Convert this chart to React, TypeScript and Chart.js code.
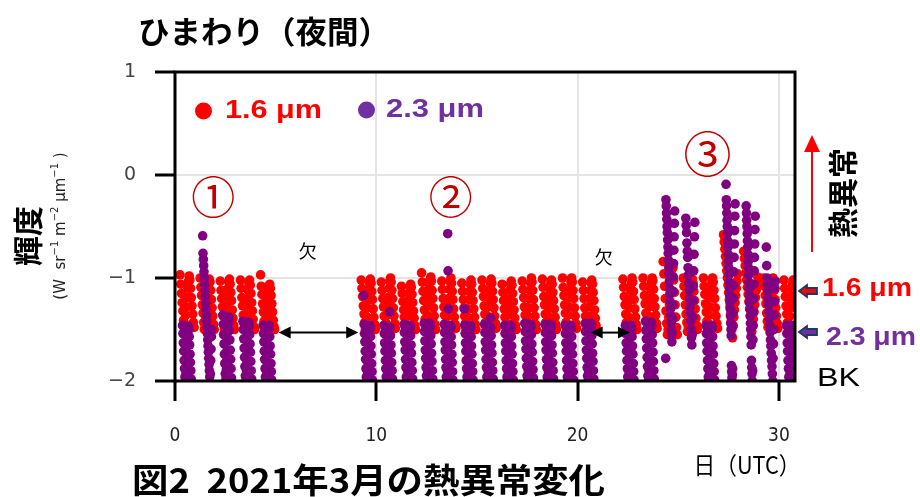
import { useEffect, useRef } from 'react';
import { Chart, registerables } from 'chart.js';

Chart.register(...registerables);

// Observation nights (day of March 2021, UTC) – gaps are missing data (欠)
const nights = [0, 1, 2, 3, 4, 9, 10, 11, 12, 13, 14, 15, 16, 17, 18, 19, 20, 22, 23, 24, 25, 26, 27, 28, 29, 30];
// Samples of each night are spread evenly around the night centre (days)
const nightCenter = 0.6;
const spread16 = 0.7;
const spread23 = 0.45;

// 1.6 µm radiance samples per night
const band16: number[][] = [
  [-0.97, -1.06, -1.15, -1.24, -1.32, -1.41, -1.49, -1.45, -1.36, -1.28, -1.19, -1.1, -1.03, -0.98, -1.02, -1.1, -1.19, -1.27, -1.35, -1.43, -1.48],
  [-1.0, -1.09, -1.17, -1.26, -1.34, -1.43, -1.5, -1.46, -1.38, -1.29, -1.21, -1.12, -1.05, -1.01, -1.04, -1.12, -1.21, -1.29, -1.37, -1.45, -1.5],
  [-1.03, -1.12, -1.2, -1.28, -1.37, -1.45, -1.5, -1.44, -1.35, -1.27, -1.18, -1.1, -1.04, -1.01, -1.06, -1.14, -1.22, -1.31, -1.39, -1.46, -1.5],
  [-1.02, -1.1, -1.19, -1.27, -1.36, -1.44, -1.5, -1.46, -1.37, -1.29, -1.2, -1.12, -1.05, -1.02, -1.07, -1.15, -1.24, -1.32, -1.4, -1.47, -1.5],
  [-0.97, -1.08, -1.16, -1.25, -1.33, -1.42, -1.5, -1.45, -1.37, -1.28, -1.2, -1.13, -1.08, -1.06, -1.1, -1.17, -1.25, -1.33, -1.41, -1.47, -1.5],
  [-1.02, -1.1, -1.18, -1.27, -1.35, -1.43, -1.5, -1.46, -1.38, -1.29, -1.21, -1.12, -1.05, -1.01, -1.05, -1.13, -1.21, -1.3, -1.38, -1.45, -1.5],
  [-1.04, -1.12, -1.2, -1.28, -1.37, -1.45, -1.5, -1.44, -1.36, -1.27, -1.19, -1.1, -1.03, -1.0, -1.04, -1.12, -1.2, -1.29, -1.37, -1.44, -1.49],
  [-1.08, -1.15, -1.23, -1.31, -1.38, -1.46, -1.5, -1.45, -1.37, -1.3, -1.22, -1.15, -1.09, -1.06, -1.09, -1.16, -1.24, -1.32, -1.39, -1.46, -1.5],
  [-0.95, -1.04, -1.13, -1.22, -1.31, -1.4, -1.48, -1.45, -1.36, -1.27, -1.18, -1.09, -1.02, -0.99, -1.03, -1.12, -1.2, -1.29, -1.37, -1.45, -1.5],
  [-1.03, -1.11, -1.2, -1.28, -1.36, -1.44, -1.5, -1.45, -1.37, -1.28, -1.2, -1.11, -1.04, -1.0, -1.05, -1.13, -1.21, -1.3, -1.38, -1.45, -1.49],
  [-1.05, -1.13, -1.21, -1.29, -1.37, -1.44, -1.5, -1.46, -1.38, -1.3, -1.21, -1.13, -1.06, -1.02, -1.06, -1.14, -1.22, -1.3, -1.38, -1.45, -1.5],
  [-1.02, -1.1, -1.18, -1.27, -1.35, -1.43, -1.5, -1.45, -1.37, -1.28, -1.2, -1.12, -1.05, -1.01, -1.05, -1.13, -1.21, -1.29, -1.37, -1.44, -1.49],
  [-1.06, -1.14, -1.22, -1.3, -1.38, -1.45, -1.5, -1.44, -1.36, -1.28, -1.2, -1.12, -1.06, -1.03, -1.07, -1.15, -1.23, -1.31, -1.39, -1.46, -1.5],
  [-1.03, -1.11, -1.19, -1.28, -1.36, -1.44, -1.5, -1.45, -1.37, -1.29, -1.2, -1.12, -1.05, -1.0, -1.04, -1.12, -1.21, -1.29, -1.37, -1.45, -1.5],
  [-1.01, -1.09, -1.18, -1.26, -1.35, -1.43, -1.5, -1.46, -1.37, -1.29, -1.2, -1.12, -1.05, -1.02, -1.06, -1.14, -1.22, -1.3, -1.38, -1.45, -1.5],
  [-1.0, -1.09, -1.17, -1.26, -1.34, -1.43, -1.5, -1.45, -1.36, -1.28, -1.19, -1.11, -1.04, -1.0, -1.04, -1.12, -1.2, -1.29, -1.37, -1.44, -1.49],
  [-1.04, -1.12, -1.2, -1.29, -1.37, -1.45, -1.5, -1.45, -1.37, -1.28, -1.2, -1.12, -1.05, -1.02, -1.06, -1.14, -1.22, -1.31, -1.39, -1.46, -1.5],
  [-1.01, -1.09, -1.18, -1.26, -1.35, -1.43, -1.5, -1.46, -1.38, -1.29, -1.21, -1.12, -1.05, -1.0, -1.04, -1.13, -1.21, -1.3, -1.38, -1.45, -1.5],
  [-1.0, -1.08, -1.17, -1.25, -1.34, -1.42, -1.49, -1.45, -1.37, -1.28, -1.2, -1.11, -1.04, -1.0, -1.03, -1.11, -1.2, -1.28, -1.36, -1.44, -1.49],
  [-0.84, -0.96, -1.08, -1.2, -1.32, -1.44, -1.55, -1.5, -1.38, -1.26, -1.14, -1.02, -0.92, -0.86, -0.9, -1.02, -1.14, -1.26, -1.38, -1.48, -1.55],
  [-1.0, -1.08, -1.17, -1.26, -1.35, -1.43, -1.52, -1.47, -1.38, -1.3, -1.21, -1.12, -1.05, -1.01, -1.05, -1.13, -1.22, -1.3, -1.39, -1.46, -1.5],
  [-1.0, -1.08, -1.16, -1.25, -1.33, -1.42, -1.49, -1.45, -1.36, -1.28, -1.19, -1.11, -1.04, -1.0, -1.04, -1.12, -1.2, -1.29, -1.37, -1.44, -1.49],
  [-0.58, -0.65, -0.72, -0.79, -0.86, -0.93, -1.0, -1.07, -1.14, -1.21, -1.28, -1.35, -1.42, -1.5, -1.58, -1.46, -1.38, -1.31, -1.24, -1.17, -1.1, -1.03, -0.96],
  [-0.74, -0.81, -0.88, -0.95, -1.02, -1.09, -1.16, -1.23, -1.3, -1.37, -1.44, -1.52, -1.47, -1.4, -1.33, -1.26, -1.19, -1.12, -1.05, -0.99],
  [-1.0, -1.08, -1.17, -1.25, -1.34, -1.42, -1.48, -1.45, -1.36, -1.28, -1.19, -1.11, -1.04, -1.0, -1.04, -1.12, -1.21, -1.29, -1.37, -1.44, -1.49],
  [-1.02, -1.1, -1.18, -1.27, -1.35, -1.43, -1.49, -1.45, -1.37, -1.29, -1.2, -1.12, -1.06, -1.02, -1.06, -1.14, -1.22, -1.3, -1.38, -1.45, -1.5],
];

// 2.3 µm radiance samples per night
const band23: number[][] = [
  [-1.46, -1.54, -1.63, -1.71, -1.8, -1.88, -1.96, -2.04, -2.0, -1.92, -1.83, -1.75, -1.66, -1.58, -1.51, -1.47, -1.5, -1.57, -1.65, -1.74, -1.82, -1.9, -1.98, -2.04],
  [-0.59, -0.76, -0.82, -0.88, -0.94, -1.0, -1.06, -1.12, -1.18, -1.24, -1.3, -1.36, -1.42, -1.48, -1.54, -1.6, -1.66, -1.72, -1.78, -1.84, -1.9, -1.96, -2.02, -1.93, -1.8, -1.69, -1.57, -1.5],
  [-1.36, -1.45, -1.55, -1.64, -1.74, -1.83, -1.93, -2.03, -1.98, -1.89, -1.8, -1.7, -1.61, -1.52, -1.44, -1.38, -1.42, -1.51, -1.6, -1.7, -1.79, -1.88, -1.97, -2.04],
  [-1.42, -1.5, -1.59, -1.68, -1.77, -1.86, -1.95, -2.04, -1.99, -1.9, -1.81, -1.72, -1.63, -1.55, -1.48, -1.43, -1.47, -1.55, -1.64, -1.72, -1.81, -1.9, -1.98, -2.04],
  [-1.46, -1.54, -1.62, -1.71, -1.79, -1.88, -1.96, -2.04, -1.99, -1.91, -1.82, -1.74, -1.65, -1.57, -1.5, -1.46, -1.49, -1.57, -1.66, -1.74, -1.83, -1.91, -1.99, -2.04],
  [-1.17, -1.45, -1.54, -1.62, -1.71, -1.79, -1.88, -1.96, -2.04, -1.99, -1.91, -1.82, -1.74, -1.65, -1.57, -1.5, -1.46, -1.49, -1.57, -1.66, -1.74, -1.83, -1.91, -1.99, -2.04],
  [-1.46, -1.54, -1.63, -1.71, -1.8, -1.88, -1.96, -2.04, -1.99, -1.91, -1.82, -1.74, -1.65, -1.57, -1.5, -1.33, -1.48, -1.56, -1.65, -1.73, -1.82, -1.9, -1.98, -2.04],
  [-1.45, -1.53, -1.62, -1.7, -1.79, -1.87, -1.96, -2.04, -1.99, -1.9, -1.82, -1.73, -1.65, -1.57, -1.5, -1.46, -1.48, -1.56, -1.65, -1.73, -1.82, -1.9, -1.98, -2.04],
  [-1.44, -1.52, -1.61, -1.7, -1.78, -1.87, -1.95, -2.04, -1.99, -1.91, -1.82, -1.74, -1.65, -1.57, -1.49, -1.44, -1.47, -1.56, -1.64, -1.73, -1.81, -1.9, -1.98, -2.04],
  [-1.45, -1.53, -1.62, -1.7, -1.79, -1.87, -1.96, -2.04, -1.99, -1.9, -0.57, -0.93, -1.3, -1.82, -1.73, -1.65, -1.57, -1.5, -1.46, -1.48, -1.57, -1.65, -1.74, -1.82, -1.91, -1.99, -2.04],
  [-1.3, -1.46, -1.54, -1.63, -1.71, -1.8, -1.88, -1.96, -2.04, -1.99, -1.91, -1.82, -1.74, -1.65, -1.57, -1.5, -1.46, -1.49, -1.57, -1.66, -1.74, -1.83, -1.91, -1.99, -2.04],
  [-1.45, -1.53, -1.62, -1.7, -1.79, -1.87, -1.96, -2.04, -1.99, -1.9, -1.82, -1.73, -1.65, -1.57, -1.5, -1.39, -1.48, -1.56, -1.65, -1.73, -1.82, -1.9, -1.98, -2.04],
  [-1.46, -1.54, -1.63, -1.71, -1.8, -1.88, -1.96, -2.04, -1.99, -1.91, -1.82, -1.74, -1.65, -1.57, -1.5, -1.46, -1.49, -1.57, -1.66, -1.74, -1.83, -1.91, -1.99, -2.04],
  [-1.44, -1.52, -1.61, -1.69, -1.78, -1.86, -1.95, -2.03, -1.99, -1.9, -1.82, -1.73, -1.65, -1.56, -1.49, -1.45, -1.47, -1.55, -1.64, -1.72, -1.81, -1.89, -1.97, -2.04],
  [-1.45, -1.53, -1.62, -1.7, -1.79, -1.87, -1.96, -2.04, -1.99, -1.91, -1.82, -1.74, -1.65, -1.57, -1.5, -1.45, -1.48, -1.56, -1.65, -1.73, -1.82, -1.9, -1.98, -2.04],
  [-1.46, -1.54, -1.63, -1.71, -1.8, -1.88, -1.96, -2.04, -1.99, -1.9, -1.82, -1.73, -1.65, -1.57, -1.5, -1.46, -1.49, -1.57, -1.66, -1.74, -1.83, -1.91, -1.99, -2.04],
  [-1.44, -1.52, -1.61, -1.7, -1.78, -1.87, -1.95, -2.04, -1.99, -1.91, -1.82, -1.74, -1.65, -1.57, -1.49, -1.44, -1.47, -1.56, -1.64, -1.73, -1.81, -1.9, -1.98, -2.04],
  [-1.46, -1.54, -1.63, -1.71, -1.8, -1.88, -1.96, -2.04, -1.99, -1.91, -1.82, -1.74, -1.65, -1.57, -1.5, -1.46, -1.49, -1.57, -1.66, -1.74, -1.83, -1.91, -1.99, -2.04],
  [-1.42, -1.51, -1.59, -1.68, -1.77, -1.86, -1.95, -2.04, -1.99, -1.9, -1.81, -1.72, -1.63, -1.55, -1.48, -1.43, -1.46, -1.55, -1.63, -1.72, -1.81, -1.9, -1.98, -2.04],
  [-1.78, -0.24, -0.3, -0.37, -0.43, -0.5, -0.56, -0.63, -0.7, -0.76, -0.83, -0.9, -0.96, -1.03, -1.1, -1.16, -1.23, -1.3, -1.36, -1.43, -1.5, -1.56, -1.62, -1.53, -1.4, -1.26, -1.13, -0.99, -0.86, -0.73, -0.6, -0.47, -0.35],
  [-0.42, -0.49, -0.56, -0.66, -0.74, -0.8, -0.9, -0.97, -1.05, -1.12, -1.2, -1.28, -1.35, -1.42, -1.5, -1.58, -1.65, -1.55, -1.38, -1.22, -1.08, -0.93, -0.77, -0.6, -0.46],
  [-1.46, -1.54, -1.63, -1.71, -1.8, -1.88, -1.96, -2.04, -1.99, -1.91, -1.82, -1.74, -1.65, -1.57, -1.5, -1.46, -1.49, -1.57, -1.66, -1.74, -1.83, -1.91, -1.99, -2.04],
  [-0.09, -0.24, -0.3, -0.37, -0.44, -0.5, -0.57, -0.64, -0.7, -0.77, -0.84, -0.9, -0.97, -1.04, -1.1, -1.17, -1.24, -1.3, -1.37, -1.44, -1.5, -1.56, -1.85, -1.91, -1.97, -2.04, -1.94, -1.88, -1.47, -1.34, -1.2, -1.07, -0.94, -0.8, -0.67, -0.54, -0.4, -0.28],
  [-0.3, -0.37, -0.44, -0.5, -0.57, -0.64, -0.7, -0.77, -0.84, -0.9, -0.97, -1.04, -1.1, -1.17, -1.24, -1.3, -1.37, -1.44, -1.5, -1.57, -1.65, -1.8, -1.87, -1.93, -2.0, -2.05, -1.9, -1.6, -1.46, -1.33, -1.2, -1.06, -0.93, -0.8, -0.67, -0.53, -0.4],
  [-0.7, -0.88, -1.0, -1.06, -1.13, -1.2, -1.26, -1.33, -1.4, -1.46, -1.53, -1.6, -1.66, -1.73, -1.8, -1.86, -1.93, -2.0, -1.78, -1.64, -1.5, -1.36, -1.23, -1.1, -1.03],
  [-1.46, -1.54, -1.63, -1.71, -1.8, -1.88, -1.96, -2.04, -1.99, -1.91, -1.82, -1.74, -1.65, -1.57, -1.5, -1.46, -1.49, -1.57, -1.66, -1.74, -1.83, -1.91, -1.99, -2.04],
];

const xTicks = [0, 10, 20, 30];
const yTicks = [1, 0, -1, -2];

function toPoints(lists: number[][], spread: number) {
  return nights.flatMap((d, k) =>
    lists[k].map((v, i, arr) => ({
      x: d + nightCenter - spread / 2 + (spread * i) / (arr.length - 1),
      y: v,
    }))
  );
}

type Ctx = CanvasRenderingContext2D;

function text(
  ctx: Ctx, s: string, x: number, y: number, font: string, color: string,
  opt: { align?: CanvasTextAlign; rot?: number; width?: number } = {}
) {
  ctx.save();
  ctx.font = font;
  ctx.fillStyle = color;
  ctx.textBaseline = 'middle';
  ctx.translate(x, y);
  if (opt.rot) ctx.rotate(opt.rot);
  if (opt.width) {
    const w = ctx.measureText(s).width;
    ctx.scale(opt.width / w, 1);
  }
  ctx.textAlign = opt.align || 'center';
  ctx.fillText(s, 0, 0);
  ctx.restore();
}

function doubleArrow(ctx: Ctx, x1: number, x2: number, y: number) {
  ctx.save();
  ctx.strokeStyle = '#000';
  ctx.fillStyle = '#000';
  ctx.lineWidth = 2;
  ctx.beginPath();
  ctx.moveTo(x1 + 8, y);
  ctx.lineTo(x2 - 8, y);
  ctx.stroke();
  ctx.beginPath();
  ctx.moveTo(x1, y); ctx.lineTo(x1 + 12, y - 6); ctx.lineTo(x1 + 12, y + 6); ctx.closePath();
  ctx.moveTo(x2, y); ctx.lineTo(x2 - 12, y - 6); ctx.lineTo(x2 - 12, y + 6); ctx.closePath();
  ctx.fill();
  ctx.restore();
}

function blockArrow(ctx: Ctx, tipX: number, y: number, fill: string) {
  ctx.save();
  ctx.beginPath();
  ctx.moveTo(tipX, y);
  ctx.lineTo(tipX + 8, y - 6);
  ctx.lineTo(tipX + 8, y - 3);
  ctx.lineTo(tipX + 18, y - 3);
  ctx.lineTo(tipX + 18, y + 3);
  ctx.lineTo(tipX + 8, y + 3);
  ctx.lineTo(tipX + 8, y + 6);
  ctx.closePath();
  ctx.fillStyle = fill;
  ctx.fill();
  ctx.strokeStyle = '#1f3864';
  ctx.lineWidth = 1.8;
  ctx.stroke();
  ctx.restore();
}

function unitLabel(ctx: Ctx, cx: number, cy: number) {
  const segs: [string, boolean][] = [
    ['(W  sr', false], ['\u22121', true], [' m', false], ['\u22122', true], [' \u03bcm', false], ['\u22121', true], [' )', false],
  ];
  const base = '15px "DejaVu Sans"';
  const sup = '10px "DejaVu Sans"';
  ctx.save();
  ctx.translate(cx, cy);
  ctx.rotate(-Math.PI / 2);
  ctx.fillStyle = '#222';
  ctx.textBaseline = 'middle';
  ctx.textAlign = 'left';
  let total = 0;
  for (const [t, s] of segs) { ctx.font = s ? sup : base; total += ctx.measureText(t).width; }
  let x = -total / 2;
  for (const [t, s] of segs) {
    ctx.font = s ? sup : base;
    ctx.fillText(t, x, s ? -6 : 0);
    x += ctx.measureText(t).width;
  }
  ctx.restore();
}

const JP = '"Noto Sans CJK JP"';
const LS = '"Liberation Sans", Arial';

const decor = {
  id: 'decor',
  afterDatasetsDraw(chart: any) {
    const { ctx, chartArea: a } = chart;
    ctx.save();
    ctx.strokeStyle = '#000';
    ctx.lineWidth = 3;
    ctx.strokeRect(a.left, a.top, a.right - a.left, a.bottom - a.top);
    ctx.restore();
  },
  afterDraw(chart: any) {
    const ctx: Ctx = chart.ctx;
    const xs = chart.scales.x;
    const ys = chart.scales.y;
    const px = (v: number) => xs.getPixelForValue(v);
    const py = (v: number) => ys.getPixelForValue(v);

    // title
    text(ctx, 'ひまわり（夜間）', 264, 31, `bold 31px ${JP}`, '#000', { width: 252 });

    // legend
    ctx.save();
    ctx.fillStyle = '#ff0000';
    ctx.beginPath(); ctx.arc(203.5, 111, 8.5, 0, Math.PI * 2); ctx.fill();
    ctx.fillStyle = '#7030a0';
    ctx.beginPath(); ctx.arc(366.5, 110, 8.5, 0, Math.PI * 2); ctx.fill();
    ctx.restore();
    text(ctx, '1.6 μm', 225, 111, `bold 26px ${LS}`, '#ff0000', { align: 'left', width: 97 });
    text(ctx, '2.3 μm', 386, 110, `bold 26px ${LS}`, '#7030a0', { align: 'left', width: 98 });

    // circled event numbers
    text(ctx, '①', px(1.9), py(-0.22), `44px ${JP}`, '#c00000');
    text(ctx, '②', px(13.7), py(-0.22), `44px ${JP}`, '#c00000');
    text(ctx, '③', px(26.45), py(0.21), `48px ${JP}`, '#c00000');

    // missing-data marks
    text(ctx, '欠', px(6.6), py(-0.74), `18px ${JP}`, '#000');
    text(ctx, '欠', px(21.3), py(-0.8), `18px ${JP}`, '#000');
    doubleArrow(ctx, px(5.15), px(9.1), py(-1.53));
    doubleArrow(ctx, px(20.65), px(22.6), py(-1.53));

    // right-side annotations
    ctx.save();
    ctx.strokeStyle = '#ff0000';
    ctx.fillStyle = '#ff0000';
    ctx.lineWidth = 2;
    ctx.beginPath(); ctx.moveTo(812, 252); ctx.lineTo(812, 148); ctx.stroke();
    ctx.beginPath(); ctx.moveTo(812, 135); ctx.lineTo(804, 152); ctx.lineTo(820, 152); ctx.closePath(); ctx.fill();
    ctx.restore();
    text(ctx, '熱異常', 843, 193, `bold 30px ${JP}`, '#000', { rot: -Math.PI / 2 });

    blockArrow(ctx, 799, 291, '#ff0000');
    blockArrow(ctx, 799, 332, '#7030a0');
    text(ctx, '1.6 μm', 822, 289, `bold 26px ${LS}`, '#ff0000', { align: 'left', width: 90 });
    text(ctx, '2.3 μm', 826, 338, `bold 26px ${LS}`, '#7030a0', { align: 'left', width: 90 });
    text(ctx, 'BK', 817, 379, `26px ${LS}`, '#000', { align: 'left', width: 43 });

    // y-axis title
    text(ctx, '輝度', 28, 236, `bold 30px ${JP}`, '#000', { rot: -Math.PI / 2 });
    unitLabel(ctx, 61, 226);

    // x-axis title and caption
    text(ctx, '日（UTC）', 747, 465, `24px ${JP}`, '#000', { width: 107 });
    text(ctx, '図2  2021年3月の熱異常変化', 132, 480, `bold 34px ${JP}`, '#000', { align: 'left', width: 473 });
  },
};

export default function App() {
  const ref = useRef<HTMLCanvasElement>(null);
  useEffect(() => {
    const chart = new Chart(ref.current!, {
      type: 'scatter',
      data: {
        datasets: [
          { label: '2.3 μm', data: toPoints(band23, spread23), backgroundColor: '#800080', pointRadius: 4.8, pointBorderWidth: 0, order: 0, clip: 0 } as any,
          { label: '1.6 μm', data: toPoints(band16, spread16), backgroundColor: '#ff0000', pointRadius: 4.8, pointBorderWidth: 0, order: 1, clip: 0 } as any,
        ],
      },
      options: {
        animation: false,
        responsive: false,
        devicePixelRatio: 1,
        layout: { padding: { left: 0, right: 125, top: 72, bottom: 0 } },
        plugins: { legend: { display: false }, tooltip: { enabled: false }, title: { display: false } },
        scales: {
          x: {
            type: 'linear',
            min: 0,
            max: 30.8,
            afterFit: (s: any) => { s.height = 116; },
            afterBuildTicks: (s: any) => { s.ticks = xTicks.map((v) => ({ value: v })); },
            grid: { color: '#e4e4e4', lineWidth: 2, tickColor: '#000', tickWidth: 3, tickLength: 20 },
            border: { display: false },
            ticks: {
              padding: 24,
              color: '#222',
              font: { family: '"DejaVu Sans Condensed", "DejaVu Sans"', size: 19 },
            },
          },
          y: {
            min: -2,
            max: 1,
            afterFit: (s: any) => { s.width = 175; },
            afterBuildTicks: (s: any) => { s.ticks = yTicks.map((v) => ({ value: v })); },
            grid: { color: '#e4e4e4', lineWidth: 2, tickColor: '#000', tickWidth: 3, tickLength: 20 },
            border: { display: false },
            ticks: {
              padding: 19,
              color: '#444',
              font: { family: '"DejaVu Sans"', size: 19 },
              callback: (v: any) => (Number(v) < 0 ? '\u2212' + Math.abs(Number(v)) : String(v)),
            },
          },
        },
      },
      plugins: [decor],
    } as any);
    return () => chart.destroy();
  }, []);
  return (
    <div style={{ position: 'absolute', left: 0, top: 0, width: 920, height: 497, background: '#fff' }}>
      <canvas ref={ref} width={920} height={497} style={{ width: 920, height: 497, display: 'block' }} />
    </div>
  );
}
